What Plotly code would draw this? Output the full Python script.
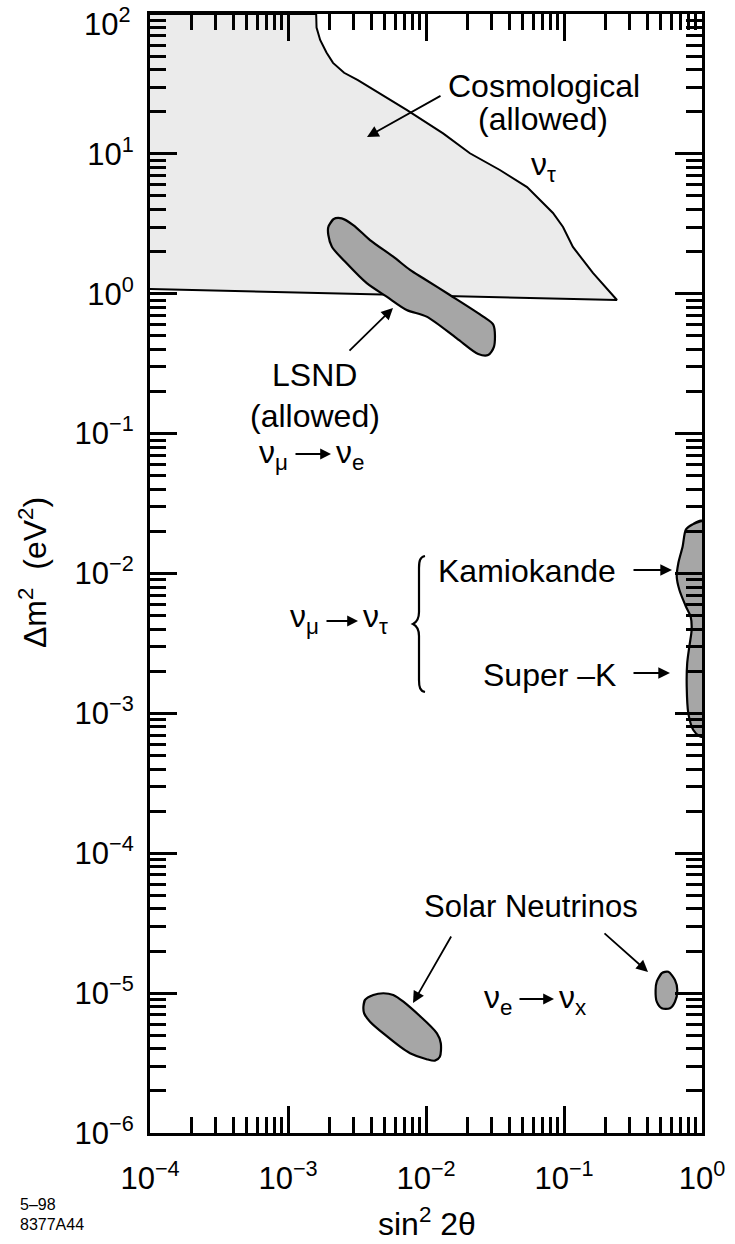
import plotly.graph_objects as go

# ---------------- data (sin^2 2theta , delta m^2 [eV^2]) ----------------
cosmo_sin2 = [1e-4, 1.60e-3, 1.61e-3, 1.71e-3, 1.90e-3, 2.12e-3, 2.55e-3, 3.21e-3, 7.24e-3,
              1.33e-2, 2.08e-2, 3.43e-2, 5.40e-2, 8.32e-2, 9.84e-2, 0.116, 0.162, 0.242, 1e-4]
cosmo_dm2 = [100, 100, 80.0, 65.2, 53.0, 44.7, 38.0, 33.7, 20.6,
             14.0, 10.1, 7.67, 5.79, 3.78, 3.00, 2.16, 1.41, 0.902, 1.08]

lsnd_sin2 = [1.96e-3, 2.13e-3, 2.45e-3, 2.97e-3, 3.93e-3, 5.79e-3, 7.66e-3, 9.55e-3, 1.49e-2,
             2.60e-2, 3.08e-2, 3.11e-2, 2.82e-2, 2.39e-2, 1.67e-2, 1.01e-2, 7.24e-3, 5.19e-3,
             3.72e-3, 2.66e-3, 2.08e-3, 1.96e-3]
lsnd_dm2 = [3.01, 3.41, 3.46, 3.10, 2.42, 1.84, 1.48, 1.29, 0.98,
            0.686, 0.598, 0.419, 0.365, 0.371, 0.480, 0.686, 0.766, 0.953,
            1.19, 1.65, 2.17, 2.63]

kam_sin2 = [1.0, 0.865, 0.766, 0.724, 0.673, 0.656, 0.686, 0.766, 0.828, 0.841, 0.809,
            0.781, 0.775, 0.796, 0.865, 0.955, 1.0]
kam_dm2 = [2.38e-2, 2.26e-2, 2.07e-2, 1.56e-2, 1.18e-2, 9.48e-3, 7.62e-3, 5.79e-3, 4.91e-3,
           3.94e-3, 3.00e-3, 2.28e-3, 1.55e-3, 1.00e-3, 7.60e-4, 6.89e-4, 6.81e-4]

solar_small_sin2 = [3.52e-3, 3.61e-3, 4.15e-3, 4.91e-3, 5.79e-3, 6.86e-3, 1.20e-2, 1.28e-2,
                    1.26e-2, 1.16e-2, 1.01e-2, 7.66e-3, 6.49e-3, 3.93e-3, 3.56e-3]
solar_small_dm2 = [8.00e-6, 8.93e-6, 9.70e-6, 9.98e-6, 9.70e-6, 8.68e-6, 5.16e-6, 4.38e-6,
                   3.51e-6, 3.29e-6, 3.37e-6, 3.72e-6, 4.14e-6, 6.25e-6, 7.18e-6]

solar_large_sin2 = [0.470, 0.511, 0.570, 0.637, 0.662, 0.637, 0.586, 0.511, 0.470, 0.461]
solar_large_dm2 = [1.21e-5, 1.39e-5, 1.42e-5, 1.24e-5, 1.05e-5, 8.68e-6, 7.79e-6, 7.79e-6,
                   8.68e-6, 1.05e-5]

x_major = [1e-4, 1e-3, 1e-2, 1e-1, 1]
x_major_text = ["10<sup>−4</sup>", "10<sup>−3</sup>", "10<sup>−2</sup>", "10<sup>−1</sup>", "10<sup>0</sup>"]
y_major = [1e-6, 1e-5, 1e-4, 1e-3, 1e-2, 1e-1, 1, 10, 100]
y_major_text = ["10<sup>−6</sup>", "10<sup>−5</sup>", "10<sup>−4</sup>", "10<sup>−3</sup>",
                "10<sup>−2</sup>", "10<sup>−1</sup>", "10<sup>0</sup>", "10<sup>1</sup>", "10<sup>2</sup>"]
digits = [2, 3, 4, 5, 6, 7, 8, 9]
x_minor = [d * 10.0 ** e for e in range(-4, 0) for d in digits]
y_minor = [d * 10.0 ** e for e in range(-6, 2) for d in digits]

FONT = "Liberation Sans, Arial, Helvetica, sans-serif"
W, H = 735, 1244
L, R, T, B = 150, 33, 14, 111
PW, PH = W - L - R, H - T - B

LIGHT = "#ebebeb"
DARK = "#a6a6a6"


def P(px, py):
    return (px - L) / PW, (T + PH - py) / PH


def closed(v):
    # repeat the first two vertices so the smoothed outline closes without a kink
    return list(v) + list(v[:2])


fig = go.Figure()

fig.add_trace(go.Scatter(x=cosmo_sin2, y=cosmo_dm2, mode="lines", fill="toself",
                         fillcolor=LIGHT, line=dict(color="black", width=2),
                         hoverinfo="skip"))
for xs, ys in [(lsnd_sin2, lsnd_dm2), (kam_sin2, kam_dm2),
               (solar_small_sin2, solar_small_dm2), (solar_large_sin2, solar_large_dm2)]:
    fig.add_trace(go.Scatter(x=closed(xs), y=closed(ys), mode="lines", fill="toself",
                             fillcolor=DARK,
                             line=dict(color="black", width=2.2, shape="spline", smoothing=0.8),
                             hoverinfo="skip"))

annos = []


def text(t, px, py, size=32, xanchor="center"):
    x, y = P(px, py)
    annos.append(dict(text=t, x=x, y=y, xref="paper", yref="paper", showarrow=False,
                      xanchor=xanchor, yanchor="middle",
                      font=dict(family=FONT, size=size, color="black")))


def arrow(hx, hy, tx, ty, size=1.3):
    x, y = P(hx, hy)
    annos.append(dict(text="", x=x, y=y, xref="paper", yref="paper", showarrow=True,
                      ax=tx - hx, ay=ty - hy, arrowhead=2, arrowsize=size, arrowwidth=1.8,
                      arrowcolor="black", standoff=0, startstandoff=0))


def transition(left, right, x0, x1, yc, ytext):
    text(left, x0 - 4, ytext, xanchor="right")
    arrow(x1, yc, x0, yc, size=1.2)
    text(right, x1 + 3, ytext, xanchor="left")


text("Cosmological", 544, 86)
text("(allowed)", 543, 119)
text("ν<sub>τ</sub>", 543, 167)
arrow(367, 137, 442, 95)

text("LSND", 314, 375)
text("(allowed)", 315, 416)
transition("ν<sub>μ</sub>", "ν<sub>e</sub>", 294, 331, 454, 454)
arrow(393, 308, 348, 352)

text("Kamiokande", 618, 571, xanchor="right")
text("Super –K", 618, 675, xanchor="right")
arrow(672, 570, 632, 570)
arrow(670, 673, 632, 673)
transition("ν<sub>μ</sub>", "ν<sub>τ</sub>", 325, 358, 621, 618)

text("Solar Neutrinos", 531, 906, size=31)
arrow(413, 1003, 452, 935)
arrow(648, 972, 603, 932)
transition("ν<sub>e</sub>", "ν<sub>x</sub>", 518, 554, 999, 999)

# the top label sits lower than its tick in the original figure
text("10<sup>2</sup>", 133, 22, size=31, xanchor="right")

# axis titles and figure labels
x, y = P(33, 573)
annos.append(dict(text="Δm<sup>2</sup>  (eV<sup>2</sup>)", x=x, y=y, xref="paper", yref="paper",
                  showarrow=False, textangle=-90, xanchor="center", yanchor="middle",
                  font=dict(family=FONT, size=32, color="black")))
text("sin<sup>2</sup> 2θ", 427, 1222, size=32)
text("5–98", 18, 1204, size=16, xanchor="left")
text("8377A44", 18, 1224, size=16, xanchor="left")

# brace for the nu_mu -> nu_tau group
pts = [(425, 556), (420, 557), (419, 561), (419, 568), (419, 612), (419, 619), (417, 622),
       (413, 624), (417, 626), (419, 629), (419, 636), (419, 680), (419, 687), (420, 691),
       (425, 692)]
pp = [P(a, b) for a, b in pts]
path = "M {0},{1} C {2},{3} {4},{5} {6},{7} L {8},{9} C {10},{11} {12},{13} {14},{15} " \
       "C {16},{17} {18},{19} {20},{21} L {22},{23} C {24},{25} {26},{27} {28},{29}".format(
           *[v for p in pp for v in p])
shapes = [dict(type="path", path=path, xref="paper", yref="paper",
               line=dict(color="black", width=2.2))]

axis_common = dict(type="log", showline=True, linewidth=3, linecolor="black", mirror="allticks",
                   ticks="inside", ticklen=27, tickwidth=2.5, tickcolor="black",
                   showgrid=False, zeroline=False, automargin=False,
                   tickfont=dict(family=FONT, size=31, color="black"))

y_text_axis = list(y_major_text)
y_text_axis[-1] = " "

fig.update_layout(
    width=W, height=H, margin=dict(l=L, r=R, t=T, b=B, pad=0, autoexpand=False),
    paper_bgcolor="white", plot_bgcolor="white", showlegend=False,
    xaxis=dict(range=[-4, 0], tickmode="array", tickvals=x_major, ticktext=x_major_text,
               ticklabelstandoff=16,
               minor=dict(ticks="inside", ticklen=16, tickwidth=2.5, tickcolor="black",
                          tickmode="array", tickvals=x_minor, showgrid=False),
               **axis_common),
    yaxis=dict(range=[-6, 2], tickmode="array", tickvals=y_major, ticktext=y_text_axis,
               ticklabelstandoff=7,
               minor=dict(ticks="inside", ticklen=16, tickwidth=2.5, tickcolor="black",
                          tickmode="array", tickvals=y_minor, showgrid=False),
               **axis_common),
    annotations=annos, shapes=shapes,
)

fig.write_html("out.html")
